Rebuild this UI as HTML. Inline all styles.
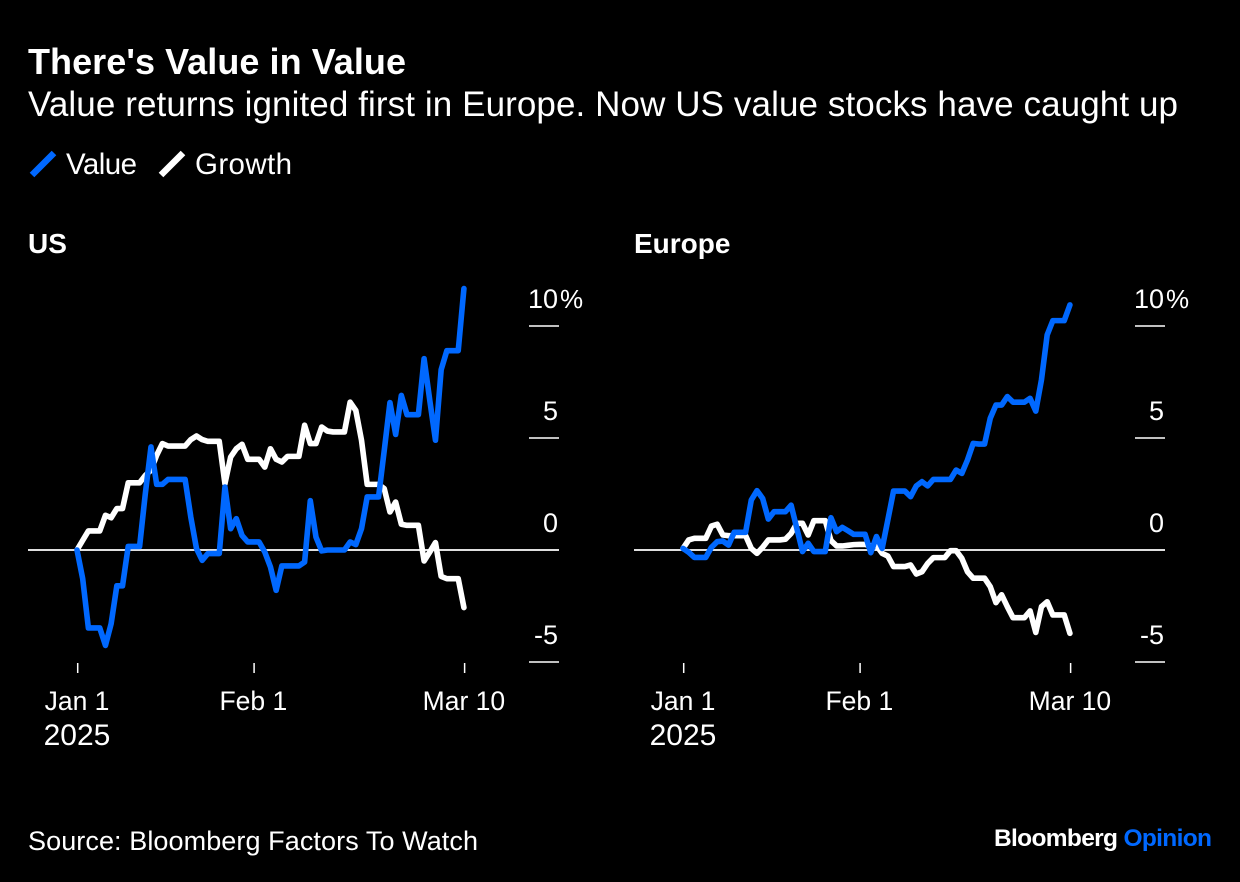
<!DOCTYPE html>
<html lang="en">
<head>
<meta charset="utf-8">
<title>There's Value in Value</title>
<style>
html,body{margin:0;padding:0;background:#000;width:1240px;height:882px;overflow:hidden}
svg{display:block}
text{font-family:"Liberation Sans",sans-serif;fill:#fff}
</style>
</head>
<body>
<svg id="chart" xmlns="http://www.w3.org/2000/svg" width="1240" height="882" viewBox="0 0 1240 882">
  <rect width="1240" height="882" fill="#000"/>
  <text x="28" y="74" font-size="36" font-weight="700" textLength="378" lengthAdjust="spacing">There's Value in Value</text>
  <text x="28" y="116" font-size="35" textLength="1150" lengthAdjust="spacing">Value returns ignited first in Europe. Now US value stocks have caught up</text>
  <line x1="32" y1="175" x2="54" y2="153" stroke="#0068ff" stroke-width="6.5"/>
  <text x="66" y="174" font-size="29.5" textLength="71" lengthAdjust="spacing">Value</text>
  <line x1="161" y1="175" x2="183" y2="153" stroke="#fff" stroke-width="6.5"/>
  <text x="195" y="174" font-size="29.5" textLength="97" lengthAdjust="spacing">Growth</text>
  <text x="28" y="850" font-size="27" textLength="450" lengthAdjust="spacing">Source: Bloomberg Factors To Watch</text>
  <text x="994" y="846" font-size="24.5" font-weight="700" textLength="218" lengthAdjust="spacing">Bloomberg <tspan fill="#0068ff">Opinion</tspan></text>
  <g id="panels"></g>
</svg>
<script>
const yTicks = [10, 5, 0, -5];
const xTickDays = [0, 31, 68];
const xTickLabels = ["Jan 1", "Feb 1", "Mar 10"];
const xTickYear = ["2025", "", ""];
const usValue = [0,-1.28,-3.48,-3.48,-3.48,-4.26,-3.29,-1.6,-1.6,0.16,0.16,0.16,2.5,4.6,2.93,2.93,3.15,3.15,3.15,3.15,1.47,0.06,-0.46,-0.16,-0.16,-0.16,2.81,0.95,1.4,0.65,0.36,0.36,0.36,-0.09,-0.76,-1.8,-0.71,-0.71,-0.71,-0.71,-0.54,2.2,0.58,-0.04,0,0,0,0,0.36,0.24,0.95,2.37,2.37,2.37,4.45,6.58,5.16,6.9,6.04,6.04,6.04,8.54,6.68,4.9,8.05,8.9,8.9,8.9,11.67];
const usGrowth = [0,0.43,0.85,0.85,0.85,1.55,1.44,1.85,1.85,3.0,3.0,3.0,3.33,3.56,4.23,4.75,4.64,4.64,4.64,4.64,4.93,5.09,4.93,4.85,4.85,4.85,2.96,4.15,4.52,4.72,4.05,4.05,4.05,3.7,4.52,4.05,3.93,4.18,4.18,4.18,5.57,4.75,4.75,5.49,5.31,5.27,5.27,5.27,6.6,6.23,4.9,2.93,2.93,2.93,2.74,1.7,2.14,1.15,1.1,1.1,1.1,-0.49,-0.09,0.33,-1.18,-1.28,-1.28,-1.28,-2.57];
const euValue = [0.07,-0.1,-0.33,-0.33,-0.33,0.12,0.37,0.4,0.22,0.79,0.79,0.79,2.23,2.65,2.3,1.38,1.71,1.71,1.71,2.0,0.97,-0.07,0.3,-0.07,-0.07,-0.07,1.44,0.82,1.01,0.86,0.7,0.7,0.7,-0.12,0.6,0.07,1.34,2.63,2.63,2.63,2.38,2.86,3.05,2.86,3.15,3.15,3.15,3.15,3.57,3.42,4.02,4.76,4.73,4.73,5.88,6.47,6.47,6.85,6.6,6.6,6.6,6.77,6.2,7.6,9.6,10.24,10.24,10.24,10.94];
const euGrowth = [0.07,0.45,0.52,0.52,0.52,1.07,1.15,0.67,0.64,0.64,0.64,0.64,0.07,-0.15,0.12,0.45,0.45,0.45,0.48,0.74,1.19,1.19,0.67,1.31,1.31,1.31,0.42,0.18,0.18,0.21,0.24,0.25,0.25,0.18,0.2,-0.15,-0.27,-0.74,-0.74,-0.74,-0.67,-1.07,-0.97,-0.6,-0.34,-0.34,-0.34,-0.03,-0.03,-0.37,-0.97,-1.26,-1.26,-1.26,-1.64,-2.35,-2,-2.53,-3.02,-3.02,-3.02,-2.72,-3.68,-2.53,-2.31,-2.9,-2.9,-2.9,-3.72];

const NS = 'http://www.w3.org/2000/svg';
const root = document.getElementById('panels');
const yScale = v => 550 - v * 22.4;
const plotHeightBottom = yScale(-5);

function make(parent, tag, attrs, text) {
  const el = document.createElementNS(NS, tag);
  for (const k in attrs) el.setAttribute(k, attrs[k]);
  if (text !== undefined) el.textContent = text;
  parent.appendChild(el);
  return el;
}

function drawPanel(name, title, titleX, originX, gridLeft, valueSeries, growthSeries) {
  const xScale = d => originX + d * 5.69;
  const axisRight = originX + 482;
  const tickLeft = originX + 452;
  const g = make(root, 'g', {});
  
  

  const t = make(g, 'text', {x: titleX, y: 253, 'font-size': 28, 'font-weight': 700}, title);
  
  

  yTicks.forEach(v => {
    const y = yScale(v);
    const isZero = v === 0;
    const line = make(g, 'line', {x1: isZero ? gridLeft : tickLeft, x2: axisRight, y1: y, y2: y, stroke: '#fff', 'stroke-width': isZero ? 1.8 : 1.5});
    
    
    const label = make(g, 'text', {x: axisRight - 1, y: y - 18, 'font-size': 27, 'text-anchor': 'end'}, String(v));
    
    
    if (v === yTicks[0]) {
      const pct = make(g, 'text', {x: axisRight + 1, y: y - 18, 'font-size': 26}, '%');
      
      
    }
  });

  xTickDays.forEach((d, i) => {
    const x = xScale(d);
    const tick = make(g, 'line', {x1: x + 0.7, x2: x + 0.7, y1: plotHeightBottom + 1, y2: plotHeightBottom + 11, stroke: '#fff', 'stroke-width': 1.5});
    
    
    const label = make(g, 'text', {x: x, y: 710, 'font-size': 26.5, 'text-anchor': 'middle'}, xTickLabels[i]);
    
    
    if (xTickYear[i]) {
      const yr = make(g, 'text', {x: x, y: 745, 'font-size': 30, 'text-anchor': 'middle'}, xTickYear[i]);
      
      
    }
  });

  const pathFor = s => s.map((v, d) => (d ? 'L' : 'M') + xScale(d).toFixed(2) + ' ' + yScale(v).toFixed(2)).join(' ');
  const common = {fill: 'none', 'stroke-width': 5.6, 'stroke-linejoin': 'round', 'stroke-linecap': 'round'};
  const growth = make(g, 'path', Object.assign({d: pathFor(growthSeries), stroke: '#fff'}, common));
  
  
  const value = make(g, 'path', Object.assign({d: pathFor(valueSeries), stroke: '#0068ff'}, common));
  
  
}

drawPanel('us', 'US', 28, 77, 28, usValue, usGrowth);
drawPanel('europe', 'Europe', 634, 683, 634, euValue, euGrowth);
</script>
</body>
</html>
